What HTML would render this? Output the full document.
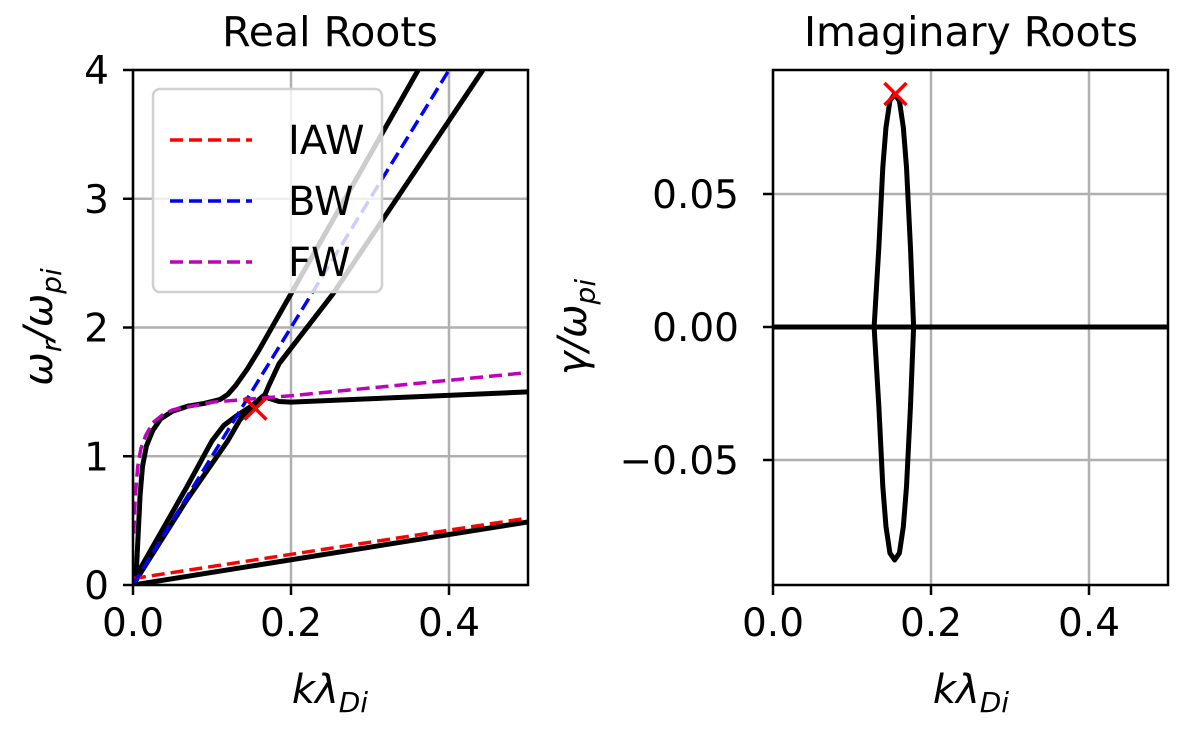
<!DOCTYPE html>
<html><head><meta charset="utf-8"><style>
body{margin:0;background:#fff}
svg text{font-family:"DejaVu Sans","Liberation Sans",sans-serif;fill:#000}
</style></head><body>
<svg id="c" width="1181" height="729" viewBox="0 0 1181 729" xmlns="http://www.w3.org/2000/svg"></svg>
<script>
const xTicks=[0,0.2,0.4];
const xTickLabels=["0.0","0.2","0.4"];
const yTicksL=[0,1,2,3,4];
const yTicksR=[-0.05,0,0.05];
const yTickLabelsR=["\u22120.05","0.00","0.05"];
const upperBranch=[[0.003,0],[0.005,0.2],[0.007,0.45],[0.009,0.7],[0.012,0.92],[0.017,1.08],[0.025,1.2],[0.035,1.29],[0.05,1.35],[0.07,1.39],[0.09,1.41],[0.11,1.44],[0.12,1.48],[0.13,1.55],[0.145,1.68],[0.16,1.83],[0.361,4.0]];
const lowerSteep=[[0.002,0.02],[0.068,0.66],[0.12,1.12],[0.135,1.28],[0.15,1.38],[0.165,1.45],[0.172,1.55],[0.185,1.72],[0.253,2.26],[0.443,4.0]];
const midBranch=[[0.002,0.05],[0.068,0.76],[0.1,1.12],[0.115,1.24],[0.13,1.31],[0.15,1.39],[0.165,1.47],[0.172,1.45],[0.185,1.425],[0.2,1.42],[0.5,1.50]];
const iawRoot=[[0,0],[0.5,0.49]];
const iawModel=[[0,0.05],[0.5,0.52]];
const bwModel=[[0,0],[0.1,1.0],[0.2,2.0],[0.4,4.0]];
const fwModel=[[0.001,0.4],[0.003,0.7],[0.006,0.92],[0.01,1.06],[0.016,1.16],[0.025,1.26],[0.037,1.32],[0.05,1.36],[0.1,1.42],[0.2,1.47],[0.5,1.65]];
const unstableK=0.155, unstableW=1.37, unstableG=0.0876;
const gammaLoop=[[0.154,0.0876],[0.16,0.085],[0.165,0.075],[0.169,0.06],[0.174,0.03],[0.178,0],[0.174,-0.03],[0.169,-0.06],[0.165,-0.075],[0.16,-0.085],[0.154,-0.0876],[0.148,-0.085],[0.143,-0.075],[0.139,-0.06],[0.134,-0.03],[0.128,0],[0.134,0.03],[0.139,0.06],[0.143,0.075],[0.148,0.085],[0.154,0.0876]];
const gammaZero=[[0,0],[0.5,0]];

const S=document.getElementById('c'),NS='http://www.w3.org/2000/svg';
function el(t,a,p){const e=document.createElementNS(NS,t);for(const k in a)e.setAttribute(k,a[k]);(p||S).appendChild(e);return e;}
const L={x0:133,x1:528,y0:585,y1:70};
const R={x0:773,x1:1168,y0:585,y1:70};
const lx=k=>L.x0+k/0.5*(L.x1-L.x0), ly=w=>L.y0-w/4*(L.y0-L.y1);
const rx=k=>R.x0+k/0.5*(R.x1-R.x0), ry=g=>327-g*2660;
function path(pts,fx,fy,st,name){const e=el('polyline',{points:pts.map(p=>fx(p[0])+','+fy(p[1])).join(' '),fill:'none',...st,'clip-path':st.clip});

return e;}
const defs=el('defs',{});
const c1=el('clipPath',{id:'cl'},defs);el('rect',{x:L.x0,y:L.y1,width:L.x1-L.x0,height:L.y0-L.y1},c1);
const c2=el('clipPath',{id:'cr'},defs);el('rect',{x:R.x0,y:R.y1,width:R.x1-R.x0,height:R.y0-R.y1},c2);
const FS='font-size:39px';
xTicks.forEach((v,i)=>{
 el('line',{x1:lx(v),x2:lx(v),y1:L.y1,y2:L.y0,stroke:'#b0b0b0','stroke-width':2.5});
 el('line',{x1:rx(v),x2:rx(v),y1:R.y1,y2:R.y0,stroke:'#b0b0b0','stroke-width':2.5});
 el('line',{x1:lx(v),x2:lx(v),y1:L.y0,y2:L.y0+10,stroke:'#000','stroke-width':2.5});
 el('line',{x1:rx(v),x2:rx(v),y1:R.y0,y2:R.y0+10,stroke:'#000','stroke-width':2.5});
 let t=el('text',{x:lx(v),y:636,style:FS,'text-anchor':'middle'});t.textContent=xTickLabels[i];
 
 t=el('text',{x:rx(v),y:636,style:FS,'text-anchor':'middle'});t.textContent=xTickLabels[i];
 
});
yTicksL.forEach(v=>{
 el('line',{x1:L.x0,x2:L.x1,y1:ly(v),y2:ly(v),stroke:'#b0b0b0','stroke-width':2.5});
 el('line',{x1:L.x0-10,x2:L.x0,y1:ly(v),y2:ly(v),stroke:'#000','stroke-width':2.5});
 const t=el('text',{x:L.x0-24,y:ly(v)+14,style:FS,'text-anchor':'end'});t.textContent=v;
 
});
yTicksR.forEach((v,i)=>{
 el('line',{x1:R.x0,x2:R.x1,y1:ry(v),y2:ry(v),stroke:'#b0b0b0','stroke-width':2.5});
 el('line',{x1:R.x0-10,x2:R.x0,y1:ry(v),y2:ry(v),stroke:'#000','stroke-width':2.5});
 const t=el('text',{x:R.x0-34,y:ry(v)+14,style:FS,'text-anchor':'end'});t.textContent=yTickLabelsR[i];
 
});
const blk={stroke:'#000','stroke-width':5,clip:'url(#cl)','stroke-linejoin':'round'};
path(upperBranch,lx,ly,blk,'upper-root-branch');
path(lowerSteep,lx,ly,blk,'steep-root-branch');
path(midBranch,lx,ly,blk,'middle-root-branch');
path(iawRoot,lx,ly,blk,'iaw-root-branch');
path(iawModel,lx,ly,{stroke:'#f00','stroke-width':3.5,'stroke-dasharray':'13,6',clip:'url(#cl)'},'iaw-line');
path(bwModel,lx,ly,{stroke:'#00f','stroke-width':3.5,'stroke-dasharray':'13,6',clip:'url(#cl)'},'bw-line');
path(fwModel,lx,ly,{stroke:'#bf00bf','stroke-width':3.5,'stroke-dasharray':'13,6',clip:'url(#cl)'},'fw-line');
function cross(x,y,name){const g=el('g',{stroke:'#f00','stroke-width':3.5});
 el('line',{x1:x-11,y1:y-11,x2:x+11,y2:y+11},g);el('line',{x1:x-11,y1:y+11,x2:x+11,y2:y-11},g);
 }
cross(lx(unstableK),ly(unstableW),'unstable-marker-real');
const lg=el('g',{});
el('rect',{x:153,y:89,width:229,height:203,rx:7,fill:'rgba(255,255,255,0.8)',stroke:'#d0d0d0','stroke-width':2.5},lg);
[['IAW','#f00',154],['BW','#00f',215],['FW','#bf00bf',276]].forEach(a=>{
 el('line',{x1:170,x2:252,y1:a[2]-14,y2:a[2]-14,stroke:a[1],'stroke-width':3.5,'stroke-dasharray':'13,6'},lg);
 const t=el('text',{x:288,y:a[2],style:'font-size:40px'},lg);t.textContent=a[0];
 
});
path(gammaZero,rx,ry,{stroke:'#000','stroke-width':5,clip:'url(#cr)'},'zero-growth-line');
path(gammaLoop,rx,ry,{stroke:'#000','stroke-width':5,clip:'url(#cr)','stroke-linejoin':'round'},'growth-rate-loop');
cross(rx(unstableK),ry(unstableG),'unstable-marker-imag');
el('rect',{x:L.x0,y:L.y1,width:L.x1-L.x0,height:L.y0-L.y1,fill:'none',stroke:'#000','stroke-width':2.5});
el('rect',{x:R.x0,y:R.y1,width:R.x1-R.x0,height:R.y0-R.y1,fill:'none',stroke:'#000','stroke-width':2.5});
</script>
<svg style="position:absolute;left:0;top:0" width="1181" height="729" xmlns="http://www.w3.org/2000/svg">
<text x="330" y="46" style="font-size:41px" text-anchor="middle">Real Roots</text>
<text x="971" y="46" style="font-size:41px" text-anchor="middle">Imaginary Roots</text>
<text x="330" y="703" style="font-size:40px" text-anchor="middle" font-style="italic">kλ<tspan style="font-size:28px" dy="9">Di</tspan></text>
<text x="971" y="703" style="font-size:40px" text-anchor="middle" font-style="italic">kλ<tspan style="font-size:28px" dy="9">Di</tspan></text>
<text transform="translate(52,327) rotate(-90)" style="font-size:40px" text-anchor="middle" font-style="italic">ω<tspan style="font-size:28px" dy="9">r</tspan><tspan dy="-9">/ω</tspan><tspan style="font-size:28px" dy="9">pi</tspan></text>
<text transform="translate(586,327) rotate(-90)" style="font-size:40px" text-anchor="middle" font-style="italic">γ/ω<tspan style="font-size:28px" dy="9">pi</tspan></text>
</svg>
</body></html>
